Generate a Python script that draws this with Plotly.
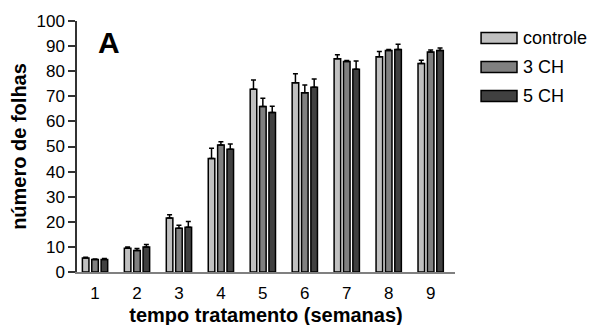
import plotly.graph_objects as go

weeks = ["1", "2", "3", "4", "5", "6", "7", "8", "9"]
series_names = ["controle", "3 CH", "5 CH"]
controle = [5.6, 9.5, 21.5, 45.2, 72.8, 75.4, 85.0, 85.8, 83.1]
ch3 = [5.0, 8.6, 17.4, 50.6, 65.9, 71.4, 83.9, 88.2, 87.6]
ch5 = [5.0, 10.0, 17.8, 48.9, 63.5, 73.6, 80.8, 88.6, 88.2]
controle_err = [0.3, 0.5, 1.3, 4.1, 3.7, 3.6, 1.6, 2.0, 1.3]
ch3_err = [0.2, 0.8, 1.2, 1.3, 3.3, 3.1, 0.4, 0.4, 0.8]
ch5_err = [0.4, 1.0, 2.3, 2.1, 2.5, 3.3, 3.3, 2.1, 1.0]
colors = ["#c0c0c0", "#808080", "#404040"]
y_ticks = [0, 10, 20, 30, 40, 50, 60, 70, 80, 90, 100]

values = [controle, ch3, ch5]
errors = [controle_err, ch3_err, ch5_err]

FONT = "Arial, Liberation Sans, sans-serif"
fig = go.Figure()
for name, v, e, c in zip(series_names, values, errors, colors):
    fig.add_trace(go.Bar(
        x=weeks, y=v, name=name,
        marker=dict(color=c, line=dict(color="black", width=1.5)),
        error_y=dict(type="data", array=e, arrayminus=[0] * len(e), symmetric=False,
                     color="black", thickness=1.5, width=2.5),
        showlegend=False,
    ))

# custom legend swatches (wide rectangles like the original)
row_y = [0.932, 0.817, 0.701]
for name, c, yy in zip(series_names, colors, row_y):
    fig.add_shape(type="rect", xref="paper", yref="paper",
                  x0=1.069, x1=1.164, y0=yy - 0.022, y1=yy + 0.022,
                  fillcolor=c, line=dict(color="black", width=1.5))
    fig.add_annotation(text=name, xref="paper", yref="paper", x=1.174, y=yy,
                       xanchor="left", yanchor="middle", showarrow=False,
                       font=dict(family=FONT, size=18, color="black"))

fig.add_annotation(text="<b>A</b>", xref="paper", yref="paper", x=0.05, y=0.916,
                   xanchor="left", yanchor="middle", showarrow=False,
                   font=dict(family=FONT, size=30, color="black"))

fig.update_layout(
    width=597, height=325,
    margin=dict(l=69, r=150, t=13, b=61, autoexpand=False),
    paper_bgcolor="white", plot_bgcolor="white",
    barmode="group", bargap=0.33, bargroupgap=0.3,
    font=dict(family=FONT, size=17, color="black"),
    xaxis=dict(
        type="category", range=[-0.43, 8.58], automargin=False,
        showline=True, linecolor="#808080", linewidth=1.5,
        ticks="outside", ticklen=5, tickcolor="rgba(0,0,0,0)",
        showgrid=False, zeroline=False,
        tickfont=dict(size=17),
        title=dict(text="<b>tempo tratamento (semanas)</b>", font=dict(size=20), standoff=6),
    ),
    yaxis=dict(
        range=[0, 100], tickvals=y_ticks, automargin=False,
        showline=True, linecolor="#333333", linewidth=1.5,
        ticks="outside", ticklen=7, tickwidth=1.5, tickcolor="#333333",
        showgrid=False, zeroline=False,
        tickfont=dict(size=17),
        title=dict(text="<b>número de folhas</b>", font=dict(size=20), standoff=5),
    ),
)

fig.write_html("out.html")
